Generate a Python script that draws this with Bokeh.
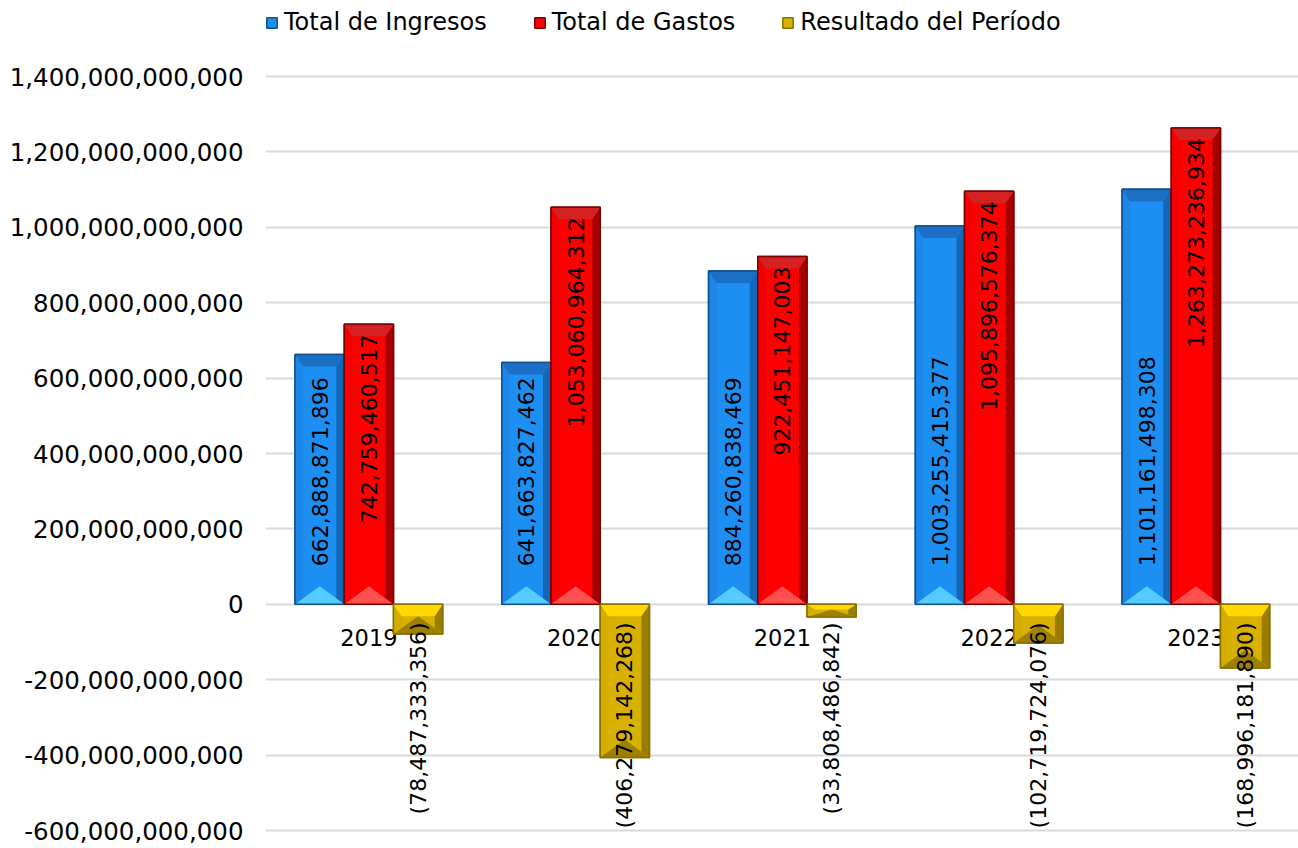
import math
from bokeh.plotting import figure
from bokeh.models import FixedTicker, NumeralTickFormatter, Legend, LegendItem
from bokeh.core.properties import value
from bokeh.embed import file_html
from bokeh.resources import INLINE

# ---------------- data ----------------
years = ["2019", "2020", "2021", "2022", "2023"]
ingresos = [662888871896, 641663827462, 884260838469, 1003255415377, 1101161498308]
gastos = [742759460517, 1053060964312, 922451147003, 1095896576374, 1263273236934]
resultado = [-78487333356, -406279142268, -33808486842, -102719724076, -168996181890]
series_names = ["Total de Ingresos", "Total de Gastos", "Resultado del Período"]
y_ticks = [-600000000000, -400000000000, -200000000000, 0, 200000000000,
           400000000000, 600000000000, 800000000000, 1000000000000,
           1200000000000, 1400000000000]

# ---------------- layout ----------------
W, H = 1298, 848
ML = 265
FW, FH = W - ML, H
GROUP_PX = 206.75
X0 = -0.5
X1 = X0 + FW / GROUP_PX
PX = (X1 - X0) / FW
TICK_TOP_PX, TICK_BOT_PX = 76, 830          # where the first/last tick sit
PY = (y_ticks[-1] - y_ticks[0]) / (TICK_BOT_PX - TICK_TOP_PX)
Y1 = y_ticks[-1] + TICK_TOP_PX * PY
Y0 = y_ticks[0] - (H - TICK_BOT_PX) * PY

FONT = "DejaVu Sans"

p = figure(width=W, height=H, x_range=(X0, X1), y_range=(Y0, Y1),
           output_backend="svg", toolbar_location=None, x_axis_location=None,
           min_border_left=ML, min_border_right=0, min_border_top=0,
           min_border_bottom=0)
p.outline_line_color = None
p.background_fill_color = "white"
p.border_fill_color = "white"
p.xgrid.visible = False
p.ygrid.grid_line_color = "#D9D9D9"
p.ygrid.grid_line_width = 2
p.yaxis.ticker = FixedTicker(ticks=y_ticks)
p.yaxis.formatter = NumeralTickFormatter(format="0,0")
p.yaxis.axis_line_color = None
p.yaxis.major_tick_line_color = None
p.yaxis.minor_tick_line_color = None
p.yaxis.major_label_text_font = FONT
p.yaxis.major_label_text_font_size = "24.5px"
p.yaxis.major_label_text_color = "#000000"
p.yaxis.major_label_standoff = 16

idx = list(range(len(years)))

# category labels at the zero line (drawn under the bars)
p.text(x=idx, y=[0] * len(years), text=years, y_offset=33,
       text_align="center", text_baseline="middle",
       text_font=value(FONT), text_font_size="22.5px", text_color="#000000")

BW = 0.238
offsets = [-BW, 0.0, BW]
all_values = [ingresos, gastos, resultado]
styles = [
    dict(face="#1E8FF2", left="#1C87E8", right="#1466B6", top="#1B6FC4",
         bottom="#55CBFF", edge="#0F4F92"),
    dict(face="#FF0000", left="#F40000", right="#A60000", top="#D42222",
         bottom="#FF5050", edge="#7A0000"),
    dict(face="#D8B100", left="#D4AD00", right="#9A7C00", top="#FFD900",
         bottom="#9C8100", edge="#8A7000"),
]

face_renderers = []
for s, vals in enumerate(all_values):
    st = styles[s]
    xs = [i + offsets[s] for i in idx]
    tops = [max(v, 0) for v in vals]
    bots = [min(v, 0) for v in vals]
    r = p.vbar(x=xs, width=BW, top=tops, bottom=bots,
               fill_color=st["face"], line_color=st["edge"], line_width=1.5)
    face_renderers.append(r)

    sw = 8 * PX
    top_x, top_y, bot_x, bot_y = [], [], [], []
    ls_x, ls_y, rs_x, rs_y = [], [], [], []
    for x, t, b in zip(xs, tops, bots):
        L, R, C = x - BW / 2, x + BW / 2, x
        th, bh = 12 * PY, 18 * PY
        f = min(1.0, (t - b) / (th + bh))
        th, bh = th * f, bh * f
        k = bh * sw / (C - L)
        top_x.append([L, R, R - sw, L + sw]); top_y.append([t, t, t - th, t - th])
        bot_x.append([L, R, C]); bot_y.append([b, b, b + bh])
        ls_x.append([L, L + sw, L + sw, L]); ls_y.append([t, t - th, b + k, b])
        rs_x.append([R, R - sw, R - sw, R]); rs_y.append([t, t - th, b + k, b])
    p.patches(ls_x, ls_y, fill_color=st["left"], line_color=None)
    p.patches(rs_x, rs_y, fill_color=st["right"], line_color=None)
    p.patches(top_x, top_y, fill_color=st["top"], line_color=None)
    p.patches(bot_x, bot_y, fill_color=st["bottom"], line_color=None)
    p.vbar(x=xs, width=BW, top=tops, bottom=bots, fill_color=None,
           line_color=st["edge"], line_width=1.5)


def fmt(v):
    return f"({abs(v):,})" if v < 0 else f"{v:,}"


# data labels
lab_kw = dict(angle=math.pi / 2, text_baseline="middle", text_font=value(FONT),
              text_font_size="22px", text_color="#000000")
p.text(x=[i + offsets[0] for i in idx], y=[0] * len(idx),
       text=[fmt(v) for v in ingresos], text_align="left", y_offset=-38, **lab_kw)
p.text(x=[i + offsets[1] for i in idx], y=gastos,
       text=[fmt(v) for v in gastos], text_align="right", y_offset=10, **lab_kw)
p.text(x=[i + offsets[2] for i in idx], y=[0] * len(idx),
       text=[fmt(v) for v in resultado], text_align="right", y_offset=18, **lab_kw)

legend = Legend(
    items=[LegendItem(label=series_names[k], renderers=[face_renderers[k]])
           for k in range(3)],
    location=(0, FH - 36), orientation="horizontal",
    glyph_width=13, glyph_height=13, label_standoff=6, spacing=46,
    padding=0, margin=0, border_line_color=None, background_fill_alpha=0,
    label_text_font=FONT, label_text_font_size="24px", label_text_color="#000000",
)
p.add_layout(legend)

open("out.html", "w").write(file_html(p, INLINE))
